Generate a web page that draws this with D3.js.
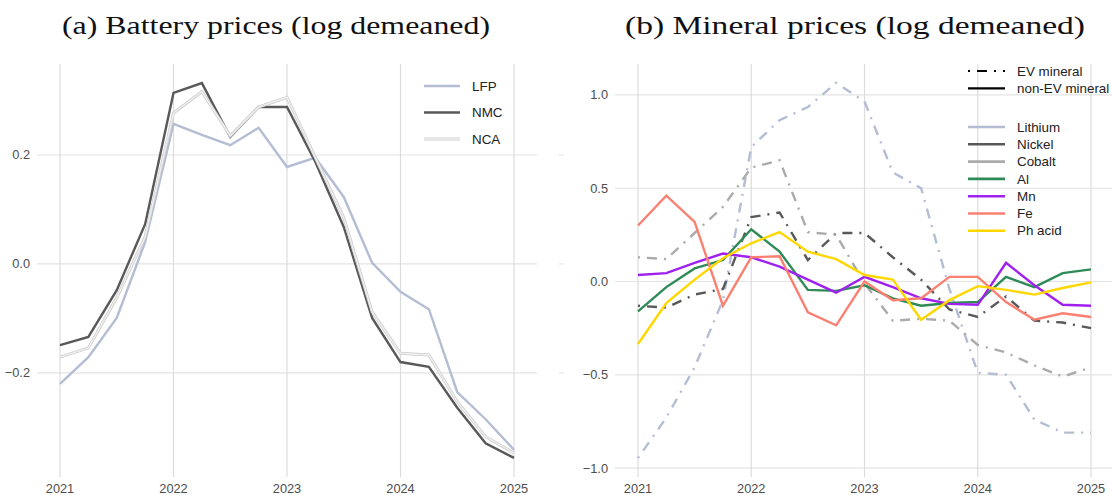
<!DOCTYPE html>
<html>
<head>
<meta charset="utf-8">
<script src="https://cdn.jsdelivr.net/npm/d3@7"></script>
<style>
  body { margin: 0; background: white; }
  svg { display: block; }
</style>
</head>
<body>
<svg id="vis"></svg>
<script>
// quarterly dates, 2021Q1 .. 2025Q1
const quarters = [2021, 2021.25, 2021.5, 2021.75, 2022, 2022.25, 2022.5, 2022.75, 2023,
                  2023.25, 2023.5, 2023.75, 2024, 2024.25, 2024.5, 2024.75, 2025]
const yearTicks = [2021, 2022, 2023, 2024, 2025]

// panel (a): battery prices
const lfp = [-0.220, -0.171, -0.099, 0.040, 0.257, 0.237, 0.218, 0.250, 0.178,
             0.195, 0.123, 0.002, -0.051, -0.083, -0.235, -0.285, -0.341]
const nmc = [-0.149, -0.134, -0.048, 0.073, 0.314, 0.332, 0.233, 0.288, 0.288,
             0.187, 0.068, -0.099, -0.180, -0.189, -0.264, -0.329, -0.356]
const nca = [-0.171, -0.154, -0.062, 0.050, 0.277, 0.316, 0.235, 0.288, 0.306,
             0.195, 0.085, -0.088, -0.164, -0.167, -0.253, -0.317, -0.347]
const batteryTicks = [-0.2, 0.0, 0.2]

// panel (b): mineral prices
const lithium = [-0.946, -0.730, -0.460, -0.100, 0.720, 0.865, 0.935, 1.065, 0.965,
                 0.585, 0.500, -0.040, -0.490, -0.500, -0.740, -0.810, -0.810]
const nickel  = [-0.130, -0.140, -0.070, -0.040, 0.345, 0.370, 0.115, 0.260, 0.260,
                 0.130, 0.010, -0.150, -0.190, -0.080, -0.210, -0.220, -0.250]
const cobalt  = [0.130, 0.120, 0.260, 0.400, 0.610, 0.650, 0.265, 0.250, -0.010,
                 -0.210, -0.200, -0.210, -0.340, -0.380, -0.450, -0.510, -0.460]
const al      = [-0.160, -0.030, 0.070, 0.115, 0.280, 0.160, -0.045, -0.050, -0.020,
                 -0.090, -0.130, -0.115, -0.110, 0.025, -0.030, 0.045, 0.065]
const mn      = [0.035, 0.045, 0.100, 0.150, 0.130, 0.080, 0.010, -0.060, 0.025,
                 -0.030, -0.090, -0.120, -0.125, 0.100, -0.020, -0.125, -0.130]
const fe      = [0.300, 0.460, 0.320, -0.130, 0.130, 0.135, -0.165, -0.235, 0.000,
                 -0.100, -0.090, 0.025, 0.025, -0.110, -0.205, -0.170, -0.190]
const phAcid  = [-0.335, -0.115, 0.010, 0.125, 0.205, 0.265, 0.160, 0.120, 0.035,
                 0.010, -0.205, -0.100, -0.025, -0.045, -0.070, -0.035, -0.005]
const mineralTicks = [-1.0, -0.5, 0.0, 0.5, 1.0]

const batterySeries = [
    {name: 'LFP', values: lfp, color: '#b4bdd3'},
    {name: 'NMC', values: nmc, color: '#595959'},
    {name: 'NCA', values: nca, color: '#d6d6d6', doubled: true}
]
const mineralSeries = [
    {name: 'Lithium', values: lithium, color: '#b4bdd3', ev: true},
    {name: 'Nickel', values: nickel, color: '#595959', ev: true},
    {name: 'Cobalt', values: cobalt, color: '#ababab', ev: true},
    {name: 'Al', values: al, color: '#2e8b57', ev: false},
    {name: 'Mn', values: mn, color: '#a020f0', ev: false},
    {name: 'Fe', values: fe, color: '#fa8072', ev: false},
    {name: 'Ph acid', values: phAcid, color: '#ffd700', ev: false}
]

const W = 1112, H = 495
const DOTDASH = '2,7,10,7'
const GRID = '#e3e3e3'
const TICK_COLOR = '#4d4d4d'
const SANS = '"Liberation Sans", Arial, sans-serif'
const SERIF = '"Liberation Serif", "DejaVu Serif", serif'
const LEGEND_SIZE = 13.4

var svg = d3.select('#vis')
    .attr('width', W)
    .attr('height', H)

// draws grid + axis labels of one panel
function drawPanel(x, y, yTicks, fmt, panelLeft, panelRight) {
    var top = y.range()[1], bottom = y.range()[0]

    svg.append('g')
        .selectAll('line')
        .data(yTicks)
        .join('line')
        .attr('x1', panelLeft)
        .attr('x2', panelRight)
        .attr('y1', d => y(d))
        .attr('y2', d => y(d))
        .attr('stroke', GRID)
        .attr('stroke-width', 1.2)

    svg.append('g')
        .selectAll('line')
        .data(yearTicks)
        .join('line')
        .attr('x1', d => x(d))
        .attr('x2', d => x(d))
        .attr('y1', top)
        .attr('y2', bottom)
        .attr('stroke', '#dcdcdc')
        .attr('stroke-width', 1.2)

    svg.append('g')
        .selectAll('text')
        .data(yTicks)
        .join('text')
        .attr('x', panelLeft - 7)
        .attr('y', d => y(d))
        .attr('dy', '0.35em')
        .attr('text-anchor', 'end')
        .attr('font-family', SANS)
        .attr('font-size', 12.8)
        .attr('fill', TICK_COLOR)
        .text(fmt)

    svg.append('g')
        .selectAll('text')
        .data(yearTicks)
        .join('text')
        .attr('x', d => x(d))
        .attr('y', 493)
        .attr('text-anchor', 'middle')
        .attr('font-family', SANS)
        .attr('font-size', 12.8)
        .attr('fill', TICK_COLOR)
        .text(d => d)
}

// serif title, stretched to the width seen in the reference
function addTitle(label, cx, width) {
    svg.append('text')
        .attr('x', cx - width / 2)
        .attr('y', 34)
        .attr('font-family', SERIF)
        .attr('font-size', 25.5)
        .attr('fill', '#111')
        .attr('textLength', width)
        .attr('lengthAdjust', 'spacingAndGlyphs')
        .text(label)
}

function legendText(x, y, label) {
    svg.append('text')
        .attr('x', x)
        .attr('y', y)
        .attr('dy', '0.35em')
        .attr('font-family', SANS)
        .attr('font-size', LEGEND_SIZE)
        .attr('fill', '#222')
        .text(label)
}

// ---- panel (a) ----
var xa = d3.scaleLinear().domain([2021, 2025]).range([60, 514])
var ya = d3.scaleLinear().domain([-0.391, 0.367]).range([477, 64])
drawPanel(xa, ya, batteryTicks, d3.format('.1f'), 37, 537)

// faint leftover marks between the panels
svg.append('g')
    .selectAll('line')
    .data(batteryTicks)
    .join('line')
    .attr('x1', 559)
    .attr('x2', 564)
    .attr('y1', d => ya(d))
    .attr('y2', d => ya(d))
    .attr('stroke', '#e6e6e6')
    .attr('stroke-width', 1.2)

var lineA = d3.line().x((d, i) => xa(quarters[i])).y(d => ya(d))

batterySeries.forEach(function(s) {
    if (s.doubled) {
        svg.append('path')
            .attr('d', lineA(s.values))
            .attr('fill', 'none')
            .attr('stroke', '#cfcfcf')
            .attr('stroke-width', 3)
        svg.append('path')
            .attr('d', lineA(s.values))
            .attr('fill', 'none')
            .attr('stroke', '#efefef')
            .attr('stroke-width', 1.4)
    } else {
        svg.append('path')
            .attr('d', lineA(s.values))
            .attr('fill', 'none')
            .attr('stroke', s.color)
            .attr('stroke-width', 2.4)
    }
})

// legend (a)
batterySeries.forEach(function(s, i) {
    var ly = 86 + i * 26.5
    if (s.doubled) {
        svg.append('line').attr('x1', 424).attr('x2', 460).attr('y1', ly).attr('y2', ly)
            .attr('stroke', '#cfcfcf').attr('stroke-width', 3)
        svg.append('line').attr('x1', 424).attr('x2', 460).attr('y1', ly).attr('y2', ly)
            .attr('stroke', '#efefef').attr('stroke-width', 1.4)
    } else {
        svg.append('line').attr('x1', 424).attr('x2', 460).attr('y1', ly).attr('y2', ly)
            .attr('stroke', s.color).attr('stroke-width', 2.6)
    }
    legendText(472, ly, s.name)
})

// ---- panel (b) ----
var xb = d3.scaleLinear().domain([2021, 2025]).range([638, 1091])
var yb = d3.scaleLinear().domain([-1.048, 1.166]).range([477, 64])
drawPanel(xb, yb, mineralTicks, d3.format('.1f'), 615, 1114)

var lineB = d3.line().x((d, i) => xb(quarters[i])).y(d => yb(d))

mineralSeries.forEach(function(s) {
    svg.append('path')
        .attr('d', lineB(s.values))
        .attr('fill', 'none')
        .attr('stroke', s.color)
        .attr('stroke-width', 2.4)
        .attr('stroke-dasharray', s.ev ? DOTDASH : null)
})

// legend (b): line type keys
var typeKeys = [{name: 'EV mineral', dash: DOTDASH}, {name: 'non-EV mineral', dash: null}]
typeKeys.forEach(function(k, i) {
    var ly = 71 + i * 17.3
    svg.append('line').attr('x1', 968).attr('x2', 1005).attr('y1', ly).attr('y2', ly)
        .attr('stroke', '#000').attr('stroke-width', 2.2)
        .attr('stroke-dasharray', k.dash)
    legendText(1017, ly, k.name)
})

// legend (b): minerals
mineralSeries.forEach(function(s, i) {
    var ly = 127 + i * 17.3
    svg.append('line').attr('x1', 968).attr('x2', 1005).attr('y1', ly).attr('y2', ly)
        .attr('stroke', s.color).attr('stroke-width', 2.6)
    legendText(1017, ly, s.name)
})

// titles
addTitle('(a) Battery prices (log demeaned)', 276, 428)
addTitle('(b) Mineral prices (log demeaned)', 855, 460)
</script>
</body>
</html>
